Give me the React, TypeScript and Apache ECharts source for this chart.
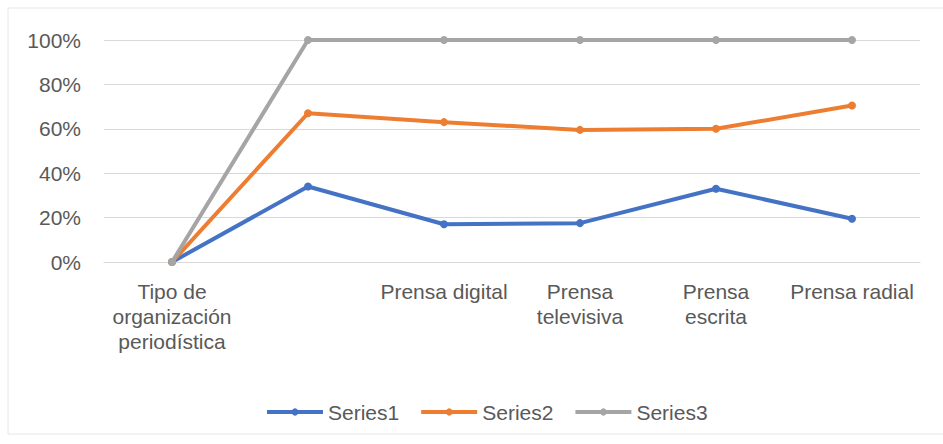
import React, { useEffect, useRef } from "react";
import * as echarts from "echarts";

const categories = [
  "Tipo de\norganización\nperiodística",
  "",
  "Prensa digital",
  "Prensa\ntelevisiva",
  "Prensa\nescrita",
  "Prensa radial",
];
const series1 = [0, 34, 17, 17.5, 33, 19.5];
const series2 = [0, 67, 63, 59.5, 60, 70.5];
const series3 = [0, 100, 100, 100, 100, 100];
const seriesNames = ["Series1", "Series2", "Series3"];
const colors = ["#4472C4", "#ED7D31", "#A5A5A5"];

const FONT = "'Liberation Sans', Arial, sans-serif";
const TEXT = "#595959";

export default function App() {
  const ref = useRef<HTMLDivElement>(null);
  useEffect(() => {
    if (!ref.current) return;
    const chart = echarts.init(ref.current, undefined, { renderer: "svg" });
    const data = [series1, series2, series3];
    chart.setOption({
      animation: false,
      backgroundColor: "#ffffff",
      textStyle: { fontFamily: FONT },
      graphic: [
        {
          type: "rect",
          shape: { x: 8, y: 8, width: 940, height: 426 },
          style: { fill: "none", stroke: "#e6e6e6", lineWidth: 1 },
          silent: true,
          z: -1,
        },
      ],
      grid: { left: 104, right: 23, top: 40, bottom: 182, containLabel: false },
      xAxis: {
        type: "category",
        data: categories,
        boundaryGap: true,
        axisLine: { show: true, lineStyle: { color: "#d9d9d9", width: 1 } },
        axisTick: { show: false },
        axisLabel: {
          interval: 0,
          color: TEXT,
          fontSize: 21,
          lineHeight: 25,
          margin: 17,
          fontFamily: FONT,
        },
      },
      yAxis: {
        type: "value",
        min: 0,
        max: 100,
        interval: 20,
        axisLine: { show: false },
        axisTick: { show: false },
        splitLine: { lineStyle: { color: "#d9d9d9", width: 1 } },
        axisLabel: {
          formatter: "{value}%",
          color: TEXT,
          fontSize: 21,
          margin: 23,
          fontFamily: FONT,
        },
      },
      legend: {
        left: 260,
        top: 396,
        itemWidth: 56,
        itemHeight: 9,
        itemGap: 20,
        lineStyle: { width: 4 },
        textStyle: { color: TEXT, fontSize: 21, fontFamily: FONT, lineHeight: 22 },
        data: seriesNames,
      },
      series: seriesNames.map((name, i) => ({
        name,
        type: "line",
        data: data[i],
        color: colors[i],
        symbol: "circle",
        symbolSize: 8,
        lineStyle: { width: 4, color: colors[i] },
        itemStyle: { color: colors[i] },
        z: 2 + i,
      })),
    });
    return () => chart.dispose();
  }, []);
  return (
    <div
      ref={ref}
      style={{ position: "fixed", left: 0, top: 0, width: 943, height: 444 }}
    />
  );
}
